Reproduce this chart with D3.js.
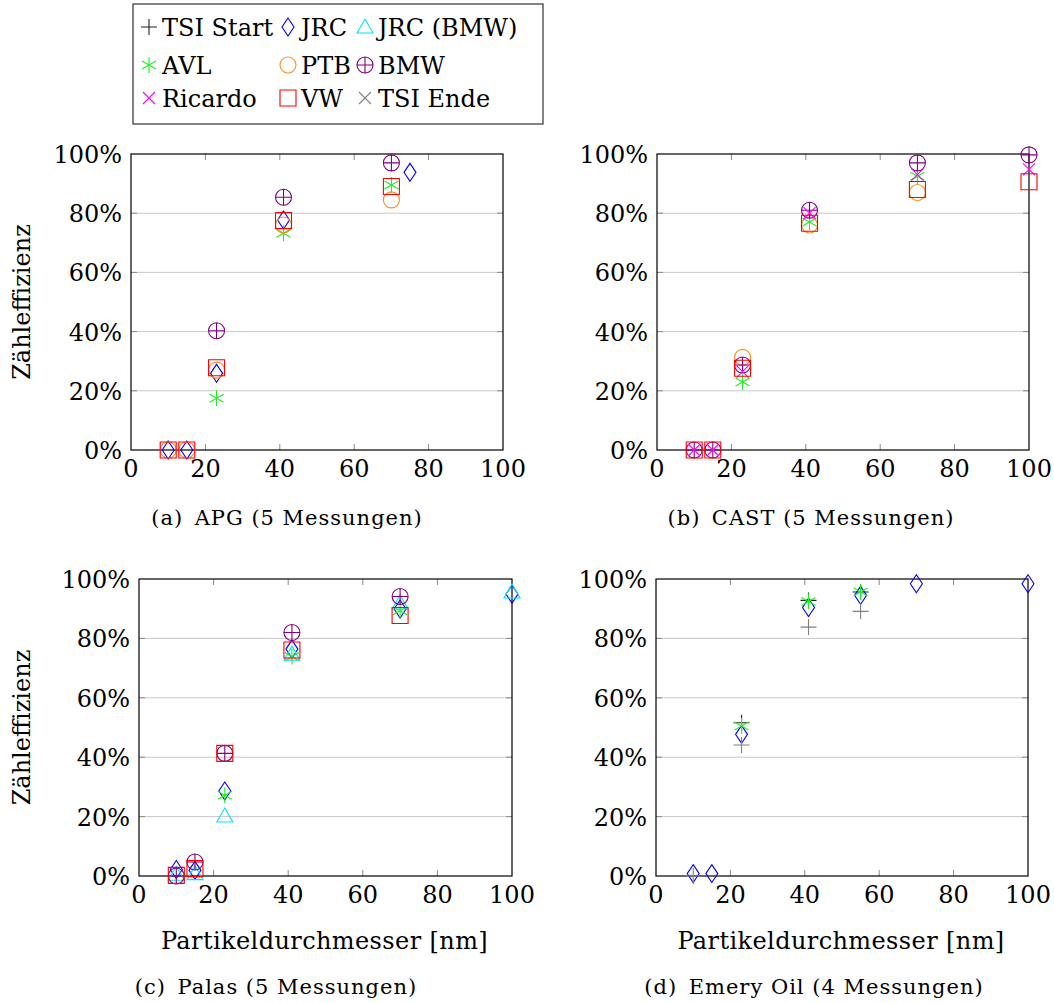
<!DOCTYPE html>
<html>
<head>
<meta charset="utf-8">
<script src="https://cdn.jsdelivr.net/npm/d3@7"></script>
<style>
  body { margin: 0; background: #fff; }
  text { font-family: "DejaVu Serif", serif; fill: #000; }
</style>
</head>
<body>
<svg id="canvas"></svg>
<script>

// Series names, colours and marks (legend order).
var seriesNames  = ['TSI Start', 'JRC', 'JRC (BMW)', 'AVL', 'PTB', 'BMW', 'Ricardo', 'VW', 'TSI Ende'];
var seriesColors = ['#222222', '#0000ff', '#00e5ff', '#22ee22', '#ff8c1a', '#800080', '#ff00ff', '#ff0000', '#808080'];
var seriesMarks  = ['plus', 'diamond', 'triangle', 'star', 'circle', 'oplus', 'cross', 'square', 'cross'];

// Tick labels.
var xTicks = [0, 20, 40, 60, 80, 100];
var yTicks = [0, 20, 40, 60, 80, 100];

// (a) APG -- [diameter nm, efficiency %]
var apgJRC = [[10, 0], [15, 0], [23, 25.9], [41, 77.7], [75, 93.8]];
var apgAVL = [[23, 17.5], [41, 73.2], [70, 89.5]];
var apgPTB = [[10, 0], [15, 0], [23, 27], [41, 76], [70, 84.5]];
var apgBMW = [[23, 40.3], [41, 85.4], [70, 97]];
var apgVW  = [[10, 0], [15, 0], [23, 27.8], [41, 77.5], [70, 89]];

// (b) CAST
var castAVL     = [[23, 23], [41, 77], [70, 92.5]];
var castPTB     = [[23, 31.3], [41, 76], [70, 87]];
var castBMW     = [[10, 0], [15, 0], [23, 28.7], [41, 81], [70, 97], [100, 99.7]];
var castRicardo = [[10, 0], [15, 0], [23, 26.5], [41, 80], [70, 93], [100, 94.8]];
var castVW      = [[10, 0], [15, 0], [23, 27.6], [41, 76.6], [70, 88], [100, 90.6]];

// (c) Palas
var palasJRC    = [[10, 2.2], [15, 1.9], [23, 28.6], [41, 76.4], [70, 89.9], [100, 94.9]];
var palasJRCBMW = [[10, 0.6], [15, 0.8], [23, 20.2], [41, 74.7], [70, 91.9], [100, 95.6]];
var palasAVL    = [[23, 27.2], [41, 73.9], [70, 89.3]];
var palasBMW    = [[10, 0], [15, 4.7], [23, 41.3], [41, 82], [70, 94.1]];
var palasVW     = [[10, 0.2], [15, 2.5], [23, 41.3], [41, 76.1], [70, 87.7]];

// (d) Emery Oil
var emeryTSIStart = [[23, 51.6], [41, 92.8], [55, 95.6]];
var emeryJRC      = [[10, 0.8], [15, 0.8], [23, 47.7], [41, 90.4], [55, 94.5], [70, 98.4], [100, 98.4]];
var emeryAVL      = [[23, 50.5], [41, 92.4], [55, 95.6]];
var emeryTSIEnde  = [[10, 0], [23, 44.1], [41, 83.8], [55, 89.1]];

// Panels: geometry, caption and the series they contain.
var panels = [
  {left: 131, right: 503, top: 154, bottom: 450, yLabel: true, xLabel: false,
   caption: '(a)\u2002APG (5 Messungen)', capX: 287, capY: 525,
   series: {'JRC': apgJRC, 'AVL': apgAVL, 'PTB': apgPTB, 'BMW': apgBMW, 'VW': apgVW}},
  {left: 657, right: 1029, top: 154, bottom: 450, yLabel: false, xLabel: false,
   caption: '(b)\u2002CAST (5 Messungen)', capX: 811, capY: 525,
   series: {'AVL': castAVL, 'PTB': castPTB, 'BMW': castBMW, 'Ricardo': castRicardo, 'VW': castVW}},
  {left: 139, right: 512, top: 579, bottom: 876, yLabel: true, xLabel: true,
   caption: '(c)\u2002Palas (5 Messungen)', capX: 276, capY: 994,
   series: {'JRC': palasJRC, 'JRC (BMW)': palasJRCBMW, 'AVL': palasAVL, 'BMW': palasBMW, 'VW': palasVW}},
  {left: 656, right: 1028, top: 579, bottom: 876, yLabel: false, xLabel: true,
   caption: '(d)\u2002Emery Oil (4 Messungen)', capX: 814, capY: 994,
   series: {'TSI Start': emeryTSIStart, 'JRC': emeryJRC, 'AVL': emeryAVL, 'TSI Ende': emeryTSIEnde},
   markOverride: {'TSI Ende': 'plus'}}
];

// Canvas.
var svg = d3.select('#canvas')
            .attr('width', 1054)
            .attr('height', 1003);

var translation = function(x, y) {
  return 'translate(' + x + ',' + y + ')';
};

// Mark shapes, centred on 0,0.
var markPath = function(type) {
  if (type == 'plus') return 'M-8,0H8M0,-8V8';
  if (type == 'cross') return 'M-6,-6L6,6M-6,6L6,-6';
  if (type == 'diamond') return 'M0,-9L6,0L0,9L-6,0Z';
  if (type == 'triangle') return 'M0,-8L8,6H-8Z';
  if (type == 'square') return 'M-8,-8H8V8H-8Z';
  if (type == 'star') return 'M0,-8V8M-7,-4L7,4M-7,4L7,-4';
  if (type == 'circle') return 'M-8,0A8,8 0 1,0 8,0A8,8 0 1,0 -8,0Z';
  if (type == 'oplus') return 'M-8,0A8,8 0 1,0 8,0A8,8 0 1,0 -8,0ZM-8,0H8M0,-8V8';
  return '';
};

var drawMark = function(g, type, color) {
  g.append('path')
   .attr('d', markPath(type))
   .attr('fill', 'none')
   .attr('stroke', color)
   .attr('stroke-width', 1.1);
};

panels.forEach(function(p) {

  var xScale = d3.scaleLinear().domain([0, 100]).range([p.left, p.right]);
  var yScale = d3.scaleLinear().domain([0, 100]).range([p.bottom, p.top]);

  // Horizontal grid lines.
  svg.append('g')
     .selectAll('line')
     .data(yTicks.slice(1, -1))
     .enter()
     .append('line')
     .attr('x1', p.left).attr('x2', p.right)
     .attr('y1', function(d) { return yScale(d); })
     .attr('y2', function(d) { return yScale(d); })
     .attr('stroke', '#c8c8c8')
     .attr('stroke-width', 1);

  // Inward ticks on all four sides.
  var tickLen = 6;
  var ticks = svg.append('g').attr('stroke', '#8a8a8a').attr('stroke-width', 1);
  xTicks.slice(1, -1).forEach(function(t) {
    ticks.append('line').attr('x1', xScale(t)).attr('x2', xScale(t))
         .attr('y1', p.bottom).attr('y2', p.bottom - tickLen);
    ticks.append('line').attr('x1', xScale(t)).attr('x2', xScale(t))
         .attr('y1', p.top).attr('y2', p.top + tickLen);
  });
  yTicks.slice(1, -1).forEach(function(t) {
    ticks.append('line').attr('x1', p.left).attr('x2', p.left + tickLen)
         .attr('y1', yScale(t)).attr('y2', yScale(t));
    ticks.append('line').attr('x1', p.right).attr('x2', p.right - tickLen)
         .attr('y1', yScale(t)).attr('y2', yScale(t));
  });

  // Frame.
  svg.append('rect')
     .attr('x', p.left).attr('y', p.top)
     .attr('width', p.right - p.left).attr('height', p.bottom - p.top)
     .attr('fill', 'none').attr('stroke', '#000').attr('stroke-width', 1.2);

  // Tick labels.
  svg.append('g')
     .selectAll('text')
     .data(xTicks)
     .enter()
     .append('text')
     .attr('x', function(d) { return xScale(d); })
     .attr('y', p.bottom + 27)
     .attr('text-anchor', 'middle')
     .style('font-size', '24px')
     .text(function(d) { return d; });

  svg.append('g')
     .selectAll('text')
     .data(yTicks)
     .enter()
     .append('text')
     .attr('x', p.left - 9)
     .attr('y', function(d) { return yScale(d) + 9; })
     .attr('text-anchor', 'end')
     .style('font-size', '24px')
     .text(function(d) { return d + '%'; });

  // Axis titles.
  if (p.yLabel) {
    svg.append('text')
       .attr('transform', translation(30, (p.top + p.bottom) / 2) + ' rotate(-90)')
       .attr('text-anchor', 'middle')
       .style('font-size', '24px')
       .text('Zähleffizienz');
  }
  if (p.xLabel) {
    svg.append('text')
       .attr('x', (p.left + p.right) / 2 - 1)
       .attr('y', p.bottom + 73)
       .attr('text-anchor', 'middle')
       .style('font-size', '24px')
       .style('letter-spacing', '0.4px')
       .text('Partikeldurchmesser [nm]');
  }

  // Caption.
  svg.append('text')
     .attr('x', p.capX)
     .attr('y', p.capY)
     .attr('text-anchor', 'middle')
     .style('font-size', '21px')
     .style('letter-spacing', '1px')
     .text(p.caption);

  // Marks, in legend order.
  seriesNames.forEach(function(name, i) {
    var pts = p.series[name];
    if (!pts) return;
    var type = (p.markOverride && p.markOverride[name]) || seriesMarks[i];
    svg.append('g')
       .selectAll('g')
       .data(pts)
       .enter()
       .append('g')
       .attr('transform', function(d) { return translation(xScale(d[0]), yScale(d[1])); })
       .each(function() { drawMark(d3.select(this), type, seriesColors[i]); });
  });
});

// Legend.
var legend = svg.append('g');
legend.append('rect')
      .attr('x', 133).attr('y', 4)
      .attr('width', 410).attr('height', 120)
      .attr('fill', '#fff').attr('stroke', '#333').attr('stroke-width', 1.2);

var legendCols = [149, 288, 365];
var legendRows = [27, 65, 98];
seriesNames.forEach(function(name, i) {
  var cx = legendCols[i % 3];
  var cy = legendRows[Math.floor(i / 3)];
  var g = legend.append('g').attr('transform', translation(cx, cy));
  drawMark(g, seriesMarks[i], seriesColors[i]);
  legend.append('text')
        .attr('x', cx + 13)
        .attr('y', cy + 9)
        .style('font-size', '24px')
        .text(name);
});

</script>
</body>
</html>
